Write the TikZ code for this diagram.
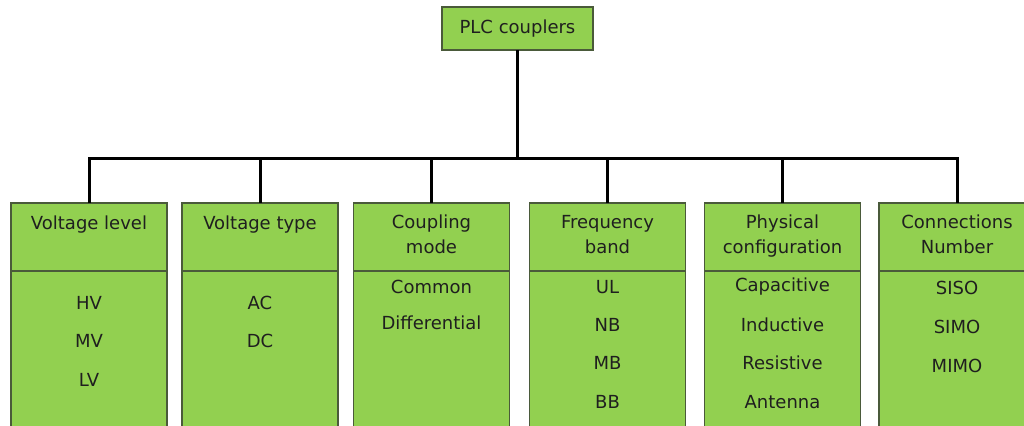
\documentclass[tikz,border=0pt]{standalone}
\usepackage{fontspec}
\setmainfont{DejaVu Sans}
\definecolor{boxgreen}{HTML}{92D050}
\definecolor{boxedge}{HTML}{4A5A3A}
\begin{document}
\begin{tikzpicture}[x=0.5pt,y=-0.5pt,
  every node/.style={inner sep=0pt,outer sep=0pt},
  catbox/.style={draw=boxedge,line width=0.6pt,fill=boxgreen,minimum width=78pt},
  headbox/.style={catbox,minimum height=34pt,anchor=north},
  bodybox/.style={catbox,minimum height=90pt,anchor=north},
  lbl/.style={font=\fontsize{9pt}{12.5pt}\selectfont,text=black!88,align=center},
  link/.style={line width=1.5pt,black}]
\clip (0,0) rectangle (1024,425);
\fill[white] (0,0) rectangle (1024,425);

% root
\node[catbox,minimum width=75.5pt,minimum height=21.5pt,lbl] (root) at (517.5,28.5) {PLC couplers};

% category columns: header and body panels
\foreach \n/\cx in {1/89,2/260,3/431.5,4/607.5,5/782.5,6/957}{
  \node[bodybox] (b\n) at (\cx,271) {};
  \node[headbox] (h\n) at (\cx,203) {};
}

% header texts (base = baseline of the last line)
\node[lbl,anchor=base] (t1) at (89,229) {Voltage level};
\node[lbl,anchor=base] (t2) at (260,229) {Voltage type};
\node[lbl,anchor=base] (t3) at (431.5,253) {Coupling\\mode};
\node[lbl,anchor=base] (t4) at (607.5,253) {Frequency\\band};
\node[lbl,anchor=base] (t5) at (782.5,253) {Physical\\configuration};
\node[lbl,anchor=base] (t6) at (957,253) {Connections\\Number};

% items
\node[lbl] (i11) at (89,303) {HV};
\node[lbl] (i12) at (89,341) {MV};
\node[lbl] (i13) at (89,380) {LV};
\node[lbl] (i21) at (260,303) {AC};
\node[lbl] (i22) at (260,341) {DC};
\node[lbl] (i31) at (431.5,287) {Common};
\node[lbl] (i32) at (431.5,323) {Differential};
\node[lbl] (i41) at (607.5,287) {UL};
\node[lbl] (i42) at (607.5,325) {NB};
\node[lbl] (i43) at (607.5,363) {MB};
\node[lbl] (i44) at (607.5,402) {BB};
\node[lbl] (i51) at (782.5,287) {Capacitive};
\node[lbl] (i52) at (782.5,325) {Inductive};
\node[lbl] (i53) at (782.5,363) {Resistive};
\node[lbl] (i54) at (782.5,402) {Antenna};
\node[lbl] (i61) at (957,288) {SISO};
\node[lbl] (i62) at (957,327) {SIMO};
\node[lbl] (i63) at (957,366) {MIMO};

% connectors
\coordinate (bus) at (518,158);
\draw[link] (root.south) -- (root.south |- bus);
\draw[link] (h1.north) -- (h1.north |- bus) -- (h6.north |- bus) -- (h6.north);
\foreach \n in {2,3,4,5}{
  \draw[link] (h\n.north) -- (h\n.north |- bus);
}
\end{tikzpicture}
\end{document}
